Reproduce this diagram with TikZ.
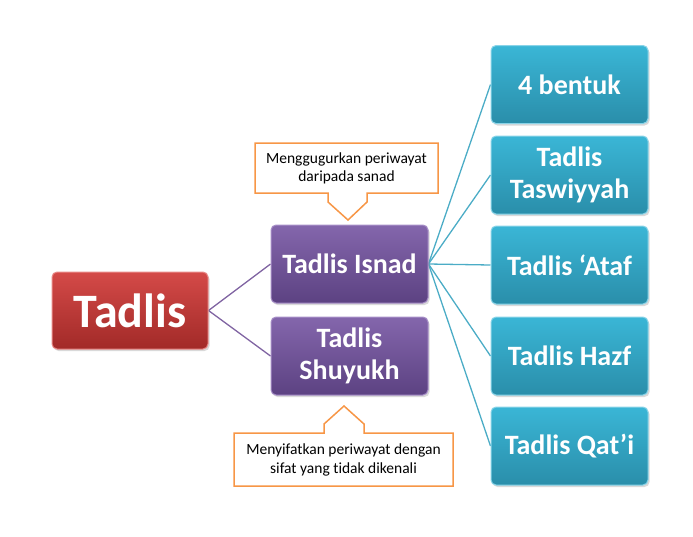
\documentclass[tikz,border=0pt]{standalone}
\usepackage{fontspec}
\setmainfont[Ligatures=NoCommon]{Carlito}
\usetikzlibrary{shadows,backgrounds}
\definecolor{redtop}{HTML}{D44A48}
\definecolor{redbot}{HTML}{A22A28}
\definecolor{redline}{HTML}{E88A88}
\definecolor{purtop}{HTML}{8466AC}
\definecolor{purbot}{HTML}{5C4282}
\definecolor{purline}{HTML}{A890C8}
\definecolor{teatop}{HTML}{3AB6D6}
\definecolor{teabot}{HTML}{2A8EAA}
\definecolor{tealine}{HTML}{8AD4E8}
\definecolor{purconn}{HTML}{8064A2}
\definecolor{teaconn}{HTML}{4BACC6}
\definecolor{callorange}{HTML}{F79646}
\tikzset{
  basebox/.style={rectangle, rounded corners=5pt, text=white, align=center,
    minimum width=157pt, minimum height=78pt, inner sep=0pt, line width=1pt,
    drop shadow={shadow xshift=1.5pt, shadow yshift=-2pt, opacity=0.3},
    font=\fontsize{28}{32}\selectfont\bfseries},
  redbox/.style={basebox, top color=redtop, bottom color=redbot, draw=redline,
    minimum width=156pt, minimum height=77pt, font=\fontsize{48}{52}\selectfont\bfseries},
  purbox/.style={basebox, top color=purtop, bottom color=purbot, draw=purline},
  teabox/.style={basebox, top color=teatop, bottom color=teabot, draw=tealine},
  purlink/.style={draw=purconn, line width=1.3pt},
  tealink/.style={draw=teaconn, line width=1.3pt},
  calloutline/.style={draw=callorange, line width=1.5pt, fill=white},
  callouttext/.style={align=center, font=\fontsize{15.5}{18.5}\selectfont, text=black, inner sep=0pt}
}
\begin{document}
\begin{tikzpicture}[x=1pt,y=-1pt]
\useasboundingbox (0,0) rectangle (693,536);
\node[redbox] (tadlis) at (130,310.5) {Tadlis};
\node[purbox] (isnad) at (349.5,264) {Tadlis Isnad};
\node[purbox] (shuyukh) at (349.5,356) {Tadlis\\Shuyukh};
\node[teabox] (r1) at (569.5,84.5) {4 bentuk};
\node[teabox] (r2) at (569.5,175) {Tadlis\\Taswiyyah};
\node[teabox] (r3) at (569.5,265) {Tadlis ‘Ataf};
\node[teabox] (r4) at (569.5,356) {Tadlis Hazf};
\node[teabox] (r5) at (569.5,446) {Tadlis Qat’i};
\begin{pgfonlayer}{background}
\draw[purlink] (tadlis.east) -- (isnad.west);
\draw[purlink] (tadlis.east) -- (shuyukh.west);
\foreach \r in {r1,r2,r3,r4,r5}{\draw[tealink] (isnad.east) -- (\r.west);}
\end{pgfonlayer}
% callouts
\coordinate (tip1) at (348,220);
\coordinate (tip2) at (344,406);
\draw[calloutline] (255,143) -- (438,143) -- (438,193) -- (367,193) -- (367,202) -- (tip1) -- (328,202) -- (328,193) -- (255,193) -- cycle;
\node[callouttext] (c1) at (346.5,168.5) {Menggugurkan periwayat\\daripada sanad};
\draw[calloutline] (234,433) -- (324,433) -- (324,424) -- (tip2) -- (364,424) -- (364,433) -- (453,433) -- (453,486) -- (234,486) -- cycle;
\node[callouttext] (c2) at (343.5,460) {Menyifatkan periwayat dengan\\sifat yang tidak dikenali};
\end{tikzpicture}
\end{document}
